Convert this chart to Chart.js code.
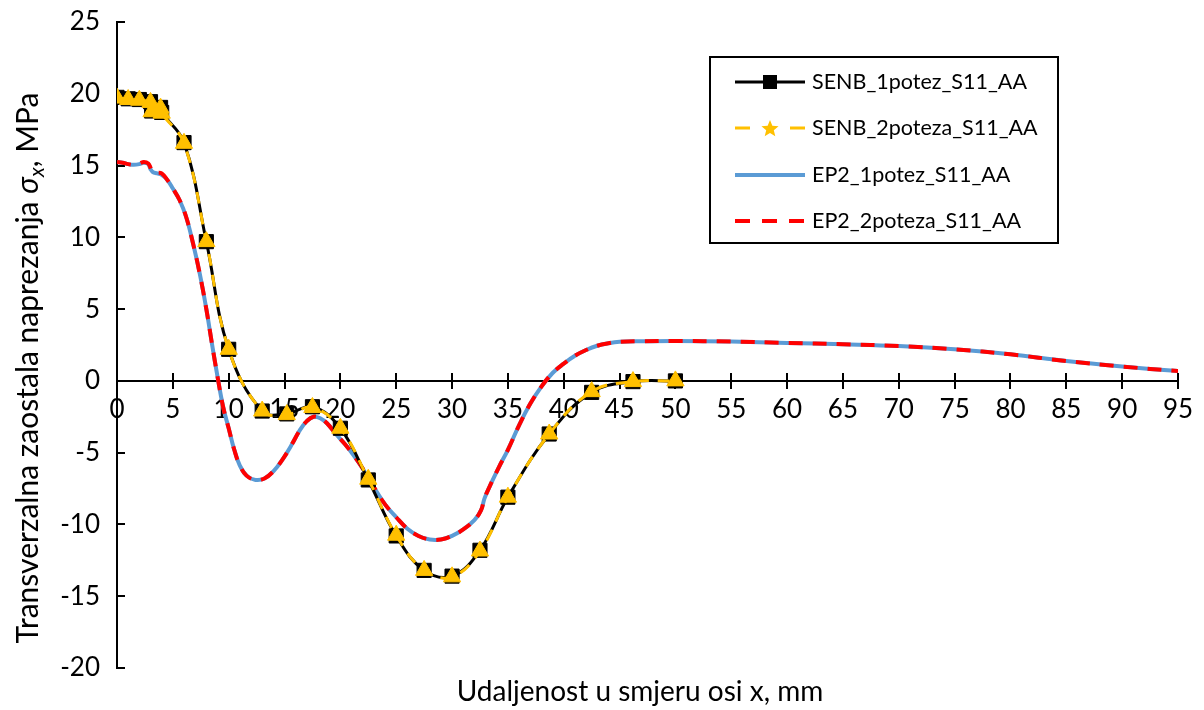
<!DOCTYPE html>
<html>
<head>
<meta charset="utf-8">
<script src="https://cdn.jsdelivr.net/npm/chart.js@4"></script>
<style>
html,body{margin:0;padding:0;background:#fff;}
#wrap{width:1204px;height:710px;position:relative;}
</style>
</head>
<body>
<div id="wrap"><canvas id="c" width="1204" height="710"></canvas></div>
<script>
// ---------- data ----------
const seriesNames = ['SENB_1potez_S11_AA', 'SENB_2poteza_S11_AA', 'EP2_1potez_S11_AA', 'EP2_2poteza_S11_AA'];
const xTickLabels = [0,5,10,15,20,25,30,35,40,45,50,55,60,65,70,75,80,85,90,95];
const yTickLabels = [-20,-15,-10,-5,0,5,10,15,20,25];
const xTitle = 'Udaljenost u smjeru osi x, mm';

const senb1X = [0, 1, 2, 3, 3.1, 3.9, 4.0, 6, 8, 10, 13, 15.2, 17.5, 20, 22.5, 25, 27.5, 30, 32.5, 35, 38.7, 42.5, 46.2, 50];
const senb1Y = [19.75, 19.65, 19.6, 19.45, 18.8, 19.05, 18.7, 16.6, 9.7, 2.2, -2.1, -2.3, -1.8, -3.3, -6.9, -10.8, -13.2, -13.6, -11.8, -8.1, -3.7, -0.8, -0.05, 0.0];

const senb2X = [0, 1, 2, 3, 3.1, 3.9, 4.0, 6, 8, 10, 13, 15.2, 17.5, 20, 22.5, 25, 27.5, 30, 32.5, 35, 38.7, 42.5, 46.2, 50];
const senb2Y = [19.7, 19.6, 19.55, 19.4, 18.75, 19.0, 18.65, 16.55, 9.7, 2.2, -2.1, -2.35, -1.85, -3.3, -6.85, -10.75, -13.2, -13.65, -11.85, -8.1, -3.7, -0.75, -0.05, 0.0];

const ep21X = [0, 0.5, 1, 1.5, 2, 2.4, 2.8, 3.0, 3.2, 3.6, 4.0, 4.5, 5, 5.6, 6.2, 6.8, 7.4, 8.0, 8.5, 9.0, 9.5, 10.0, 10.5, 11.0, 11.6, 12.4, 13.2, 14.0, 14.8, 15.6, 16.4, 17.0, 17.6, 18.2, 18.8, 19.6, 20.4, 21.2, 22.0, 23.0, 24.0, 25.0, 26.0, 27.0, 28.0, 29.0, 30.0, 31.0, 32.0, 32.6, 32.9, 33.4, 34.2, 35.0, 36.0, 37.0, 38.0, 39.0, 40.0, 41.0, 42.0, 43.0, 44.0, 45.0, 47, 50, 55, 60, 65, 70, 75, 80, 85, 90, 95];
const ep21Y = [15.25, 15.2, 15.1, 15.05, 15.1, 15.2, 15.1, 14.75, 14.55, 14.45, 14.35, 14.0, 13.4, 12.6, 11.4, 9.6, 7.5, 5.0, 2.6, 0.3, -1.8, -3.3, -4.8, -5.9, -6.6, -6.9, -6.8, -6.3, -5.5, -4.5, -3.4, -2.8, -2.5, -2.6, -2.95, -3.7, -4.4, -5.2, -6.1, -7.4, -8.6, -9.5, -10.3, -10.8, -11.05, -11.05, -10.8, -10.35, -9.7, -9.0, -8.2, -7.3, -6.0, -4.8, -3.1, -1.6, -0.4, 0.55, 1.2, 1.75, 2.15, 2.45, 2.62, 2.72, 2.76, 2.78, 2.74, 2.64, 2.55, 2.43, 2.2, 1.85, 1.38, 1.0, 0.68];

const ep22X = [0, 0.5, 1, 1.5, 2, 2.4, 2.8, 3.0, 3.2, 3.6, 4.0, 4.5, 5, 5.6, 6.2, 6.8, 7.4, 8.0, 8.5, 9.0, 9.5, 10.0, 10.5, 11.0, 11.6, 12.4, 13.2, 14.0, 14.8, 15.6, 16.4, 17.0, 17.6, 18.2, 18.8, 19.6, 20.4, 21.2, 22.0, 23.0, 24.0, 25.0, 26.0, 27.0, 28.0, 29.0, 30.0, 31.0, 32.0, 32.6, 32.9, 33.4, 34.2, 35.0, 36.0, 37.0, 38.0, 39.0, 40.0, 41.0, 42.0, 43.0, 44.0, 45.0, 47, 50, 55, 60, 65, 70, 75, 80, 85, 90, 95];
const ep22Y = [15.25, 15.2, 15.1, 15.05, 15.15, 15.25, 15.15, 14.85, 14.55, 14.5, 14.45, 14.0, 13.4, 12.6, 11.4, 9.6, 7.5, 5.0, 2.6, 0.3, -1.8, -3.3, -4.8, -5.9, -6.6, -6.9, -6.8, -6.3, -5.5, -4.5, -3.4, -2.8, -2.5, -2.6, -2.95, -3.7, -4.4, -5.2, -6.1, -7.4, -8.6, -9.5, -10.3, -10.8, -11.05, -11.05, -10.8, -10.35, -9.7, -9.0, -8.2, -7.3, -6.0, -4.8, -3.1, -1.6, -0.4, 0.55, 1.2, 1.75, 2.15, 2.45, 2.62, 2.72, 2.76, 2.78, 2.74, 2.64, 2.55, 2.43, 2.2, 1.85, 1.38, 1.0, 0.68];

// ---------- helpers ----------
const pts = (xs, ys) => xs.map((x, i) => ({x: x, y: ys[i]}));
const FONT = 'Lato, "Open Sans", sans-serif';
const YELLOW = '#FFC000', BLUE = '#5B9BD5', RED = '#FF0000';

function drawStar(ctx, cx, cy, rOuter, rInner) {
  ctx.beginPath();
  for (let i = 0; i < 10; i++) {
    const r = i % 2 === 0 ? rOuter : rInner;
    const a = -Math.PI / 2 + i * Math.PI / 5;
    const px = cx + r * Math.cos(a), py = cy + r * Math.sin(a);
    if (i === 0) ctx.moveTo(px, py); else ctx.lineTo(px, py);
  }
  ctx.closePath();
  ctx.fill();
}

const decor = {
  id: 'decor',
  beforeDatasetsDraw(chart) {
    const {ctx, scales: {x, y}, chartArea} = chart;
    const y0 = y.getPixelForValue(0);
    ctx.save();
    ctx.strokeStyle = '#000';
    ctx.lineWidth = 2;
    ctx.beginPath();
    x.ticks.forEach(t => {
      const px = Math.round(x.getPixelForValue(t.value));
      ctx.moveTo(px, y0 - 8); ctx.lineTo(px, y0 + 8);
    });
    y.ticks.forEach(t => {
      const py = Math.round(y.getPixelForValue(t.value));
      ctx.moveTo(chartArea.left, py); ctx.lineTo(chartArea.left + 8, py);
    });
    ctx.stroke();
    ctx.restore();
  },
  afterDraw(chart) {
    const {ctx, chartArea} = chart;
    ctx.save();
    ctx.fillStyle = '#000';
    // x title
    ctx.font = '28px ' + FONT;
    ctx.textAlign = 'center';
    ctx.textBaseline = 'middle';
    ctx.fillText(xTitle, 640, 692);

    // y title with italic sigma and subscript x
    const parts = [
      {t: 'Transverzalna zaostala naprezanja ', f: '30px ' + FONT, dy: 0},
      {t: 'σ', f: 'italic 30px ' + FONT, dy: 0},
      {t: 'x', f: 'italic 21px ' + FONT, dy: 6},
      {t: ', MPa', f: '30px ' + FONT, dy: 0}
    ];
    let total = 0;
    parts.forEach(p => { ctx.font = p.f; p.w = ctx.measureText(p.t).width; total += p.w; });
    ctx.translate(28, 368);
    ctx.rotate(-Math.PI / 2);
    ctx.textAlign = 'left';
    ctx.textBaseline = 'alphabetic';
    let cx = -total / 2;
    parts.forEach(p => { ctx.font = p.f; ctx.fillText(p.t, cx, 10 + p.dy); cx += p.w; });
    ctx.setTransform(1, 0, 0, 1, 0, 0);

    // legend
    const bx = 710, by = 57, bw = 348, bh = 186;
    ctx.lineWidth = 2;
    ctx.strokeStyle = '#000';
    ctx.fillStyle = '#fff';
    ctx.fillRect(bx, by, bw, bh);
    ctx.strokeRect(bx, by, bw, bh);
    const rows = [82, 128, 175, 221];
    const lx1 = 735, lx2 = 805, mx = 770;
    ctx.setLineDash([]);
    ctx.strokeStyle = '#000'; ctx.lineWidth = 3;
    ctx.beginPath(); ctx.moveTo(lx1, rows[0]); ctx.lineTo(lx2, rows[0]); ctx.stroke();
    ctx.fillStyle = '#000';
    ctx.fillRect(mx - 7, rows[0] - 7, 14, 14);
    ctx.strokeStyle = YELLOW; ctx.lineWidth = 3;
    ctx.beginPath();
    ctx.moveTo(lx1, rows[1]); ctx.lineTo(lx1 + 15, rows[1]);
    ctx.moveTo(lx2 - 15, rows[1]); ctx.lineTo(lx2, rows[1]);
    ctx.stroke();
    ctx.fillStyle = YELLOW;
    drawStar(ctx, mx, rows[1] + 1, 9, 4);
    ctx.strokeStyle = BLUE; ctx.lineWidth = 4;
    ctx.beginPath(); ctx.moveTo(lx1, rows[2]); ctx.lineTo(lx2, rows[2]); ctx.stroke();
    ctx.strokeStyle = RED; ctx.lineWidth = 4;
    ctx.setLineDash([15, 12]);
    ctx.beginPath(); ctx.moveTo(lx1, rows[3]); ctx.lineTo(lx2 + 1, rows[3]); ctx.stroke();
    ctx.setLineDash([]);
    ctx.fillStyle = '#000';
    ctx.font = '21.5px ' + FONT;
    ctx.textAlign = 'left';
    ctx.textBaseline = 'middle';
    seriesNames.forEach((n, i) => ctx.fillText(n, 812, rows[i]));
    ctx.restore();
  }
};

const chart = new Chart(document.getElementById('c'), {
  type: 'scatter',
  data: {
    datasets: [
      {
        label: seriesNames[0], data: pts(senb1X, senb1Y), showLine: true, tension: 0.4,
        borderColor: '#000', borderWidth: 3, pointStyle: 'rect', pointRadius: 10,
        pointBackgroundColor: '#000', pointBorderColor: '#000', pointBorderWidth: 1, order: 2
      },
      {
        label: seriesNames[1], data: pts(senb2X, senb2Y), showLine: true, tension: 0.4,
        borderColor: YELLOW, borderWidth: 3, borderDash: [12, 9], pointStyle: 'triangle', pointRadius: 10,
        pointBackgroundColor: YELLOW, pointBorderColor: YELLOW, pointBorderWidth: 1, order: 1
      },
      {
        label: seriesNames[2], data: pts(ep21X, ep21Y), showLine: true, tension: 0.4,
        borderColor: BLUE, borderWidth: 4, pointRadius: 0, order: 4
      },
      {
        label: seriesNames[3], data: pts(ep22X, ep22Y), showLine: true, tension: 0.4,
        borderColor: RED, borderWidth: 4, borderDash: [14, 10], pointRadius: 0, order: 3
      }
    ]
  },
  options: {
    responsive: false,
    animation: false,
    layout: {padding: {left: 0, right: 26, top: 22, bottom: 42}},
    plugins: {legend: {display: false}, tooltip: {enabled: false}, title: {display: false}},
    scales: {
      x: {
        type: 'linear', position: {y: 0}, min: 0, max: 95,
        afterBuildTicks: s => { s.ticks = xTickLabels.map(v => ({value: v})); },
        afterFit: s => { s.height = 42; s.paddingLeft = 0; s.paddingRight = 0; s.paddingTop = 0; s.paddingBottom = 0; },
        grid: {display: false, drawTicks: false},
        border: {display: true, color: '#000', width: 2},
        ticks: {color: '#000', font: {size: 26, family: FONT}, padding: 13, maxRotation: 0, autoSkip: false}
      },
      y: {
        type: 'linear', position: 'left', min: -20, max: 25,
        afterBuildTicks: s => { s.ticks = yTickLabels.map(v => ({value: v})); },
        afterFit: s => { s.width = 117; s.paddingTop = 0; s.paddingBottom = 0; s.paddingLeft = 0; s.paddingRight = 0; },
        grid: {display: false, drawTicks: false},
        border: {display: true, color: '#000', width: 2},
        ticks: {color: '#000', font: {size: 26, family: FONT}, padding: 17, autoSkip: false}
      }
    }
  },
  plugins: [decor]
});
</script>
</body>
</html>
